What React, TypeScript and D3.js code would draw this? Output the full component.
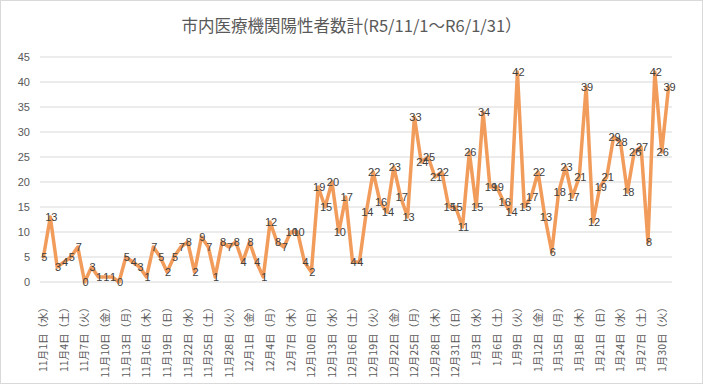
import * as d3 from 'd3';

const W = 703;
const H = 384;

const title = '市内医療機関陽性者数計(R5/11/1～R6/1/31）';

const novValues = [5, 13, 3, 4, 5, 7, 0, 3, 1, 1, 1, 0, 5, 4, 3, 1, 7, 5, 2, 5, 7, 8, 2, 9, 7, 1, 8, 7, 8, 4];
const decValues = [8, 4, 1, 12, 8, 7, 10, 10, 4, 2, 19, 15, 20, 10, 17, 4, 4, 14, 22, 16, 14, 23, 17, 13, 33, 24, 25, 21, 22, 15, 15];
const janValues = [11, 26, 15, 34, 19, 19, 16, 14, 42, 15, 17, 22, 13, 6, 18, 23, 17, 21, 39, 12, 19, 21, 29, 28, 18, 26, 27, 8, 42, 26, 39];

// one label every 3 days, starting from 11/1
const tickLabels = [
  '11月1日（水）', '11月4日（土）', '11月7日（火）', '11月10日（金）', '11月13日（月）',
  '11月16日（木）', '11月19日（日）', '11月22日（水）', '11月25日（土）', '11月28日（火）',
  '12月1日（金）', '12月4日（月）', '12月7日（木）', '12月10日（日）', '12月13日（水）',
  '12月16日（土）', '12月19日（火）', '12月22日（金）', '12月25日（月）', '12月28日（木）',
  '12月31日（日）', '1月3日（水）', '1月6日（土）', '1月9日（火）', '1月12日（金）',
  '1月15日（月）', '1月18日（木）', '1月21日（日）', '1月24日（水）', '1月27日（土）',
  '1月30日（火）',
];
const tickStep = 3;

const yTicks = [0, 5, 10, 15, 20, 25, 30, 35, 40, 45];

const values = [...novValues, ...decValues, ...janValues];

const plot = { left: 40, right: 672, top: 57, bottom: 282 };

export default function App() {
  const x = d3.scaleBand<number>()
    .domain(d3.range(values.length))
    .range([plot.left, plot.right]);
  const cx = (i: number) => (x(i) as number) + x.bandwidth() / 2;

  const y = d3.scaleLinear().domain([0, 45]).range([plot.bottom, plot.top]);

  const line = d3.line<number>()
    .x((_, i) => cx(i))
    .y((d) => y(d));

  const jp = '"Noto Sans CJK JP", "Noto Sans", sans-serif';

  return (
    <svg width={W} height={H} style={{ position: 'absolute', left: 0, top: 0 }}>
      <rect x={0.5} y={0.5} width={W - 1} height={H - 1} fill="#fff" stroke="#d9d9d9" />
      <text x={W / 2} y={32} textAnchor="middle" fontSize={16.5} fill="#595959" fontFamily={jp}>
        {title}
      </text>

      {yTicks.map((t) => (
        <g key={t}>
          <line x1={plot.left} x2={plot.right} y1={y(t)} y2={y(t)} stroke="#d9d9d9" />
          <text x={30} y={y(t)} dy="0.35em" textAnchor="end" fontSize={11}
            fill="#595959" fontFamily='"Liberation Sans", sans-serif'>{t}</text>
        </g>
      ))}

      {tickLabels.map((lab, k) => {
        const tx = cx(k * tickStep);
        return (
          <text key={lab} transform={`translate(${tx + 1},302) rotate(-90)`} textAnchor="end"
            dominantBaseline="middle" fontSize={10.5} fill="#595959" fontFamily={jp}>
            {lab}
          </text>
        );
      })}

      <path d={line(values) ?? ''} fill="none" stroke="#F29C5C" strokeWidth={3.5}
        strokeLinejoin="round" strokeLinecap="round" />

      {values.map((v, i) => (
        <text key={i} x={cx(i) + 1} y={y(v)} dy="0.35em" textAnchor="middle" fontSize={11}
          fill="#404040" fontFamily='"Liberation Sans", sans-serif'>{v}</text>
      ))}
    </svg>
  );
}
